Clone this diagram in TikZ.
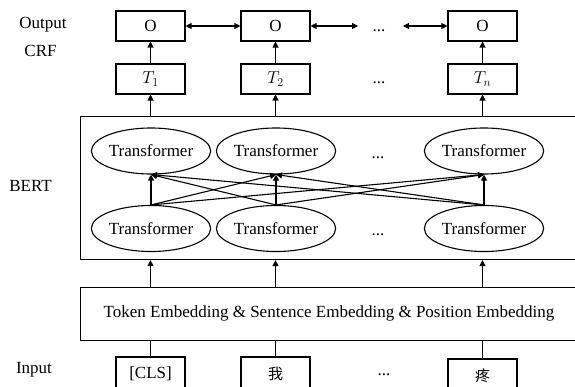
\documentclass[tikz,border=0pt]{standalone}
\usepackage{fontspec}
\setmainfont{Liberation Serif}
\newfontfamily\cjk{Noto Sans CJK SC}
\usetikzlibrary{arrows.meta,shapes.geometric}
\tikzset{
  x=1pt,y=-1pt,
  every node/.style={font=\fontsize{17}{20}\selectfont},
  line/.style={line width=1.1pt,black},
  arr/.style={line, -{Triangle[length=6pt,width=6pt]}},
  darr/.style={line, {Triangle[length=6pt,width=6pt]}-{Triangle[length=6pt,width=6pt]}},
  sbox/.style={draw,line width=1.1pt,minimum width=69pt,minimum height=30pt,inner sep=0pt},
  tf/.style={draw,ellipse,line width=1.1pt,minimum width=97pt,minimum height=46pt,inner sep=0pt},
  lab/.style={inner sep=0pt},
  dotsn/.style={inner sep=0pt,anchor=base},
}
\begin{document}
\begin{tikzpicture}
\useasboundingbox (0,0) rectangle (575,387);
\clip (0,0) rectangle (575,387);
% labels
\node[lab] (lout) at (43,25) {Output};
\node[lab] (lcrf) at (40.5,51) {CRF};
\node[lab] (lbert) at (30.5,186) {BERT};
\node[lab] (lin) at (34,370) {Input};
% O row
\node[sbox] (o1) at (150.5,26) {O};
\node[sbox] (o2) at (275.5,26) {O};
\node[sbox] (o3) at (482.5,26) {O};
\node[dotsn] (od) at (379,31.5) {...};
\coordinate (oa) at (358,26);
\coordinate (ob) at (403,26);
\draw[darr] (o1) -- (o2);
\draw[darr] (o2) -- (oa);
\draw[darr] (ob) -- (o3);
% T row
\node[sbox] (t1) at (150.5,79) {$T_1$};
\node[sbox] (t2) at (275.5,79) {$T_2$};
\node[sbox] (t3) at (482.5,79) {$T_n$};
\node[dotsn] (td) at (379,84) {...};
\draw[arr] (t1) -- (o1);
\draw[arr] (t2) -- (o2);
\draw[arr] (t3) -- (o3);
% BERT box
\node[draw,line width=1.1pt,minimum width=500pt,minimum height=143pt,inner sep=0pt,anchor=north west] (bert) at (80,116) {};
\draw[arr] (t1 |- bert.north) -- (t1);
\draw[arr] (t2 |- bert.north) -- (t2);
\draw[arr] (t3 |- bert.north) -- (t3);
% transformers
\node[tf] (a1) at (151,151) {Transformer};
\node[tf] (a2) at (276,151) {Transformer};
\node[tf] (a3) at (484,151) {Transformer};
\node[tf] (b1) at (151,228.5) {Transformer};
\node[tf] (b2) at (276,228.5) {Transformer};
\node[tf] (b3) at (484,228.5) {Transformer};
\node[dotsn] (ad) at (378,159) {...};
\node[dotsn] (bd) at (378,236) {...};
\foreach \i in {1,2,3}{
  \foreach \j in {1,2,3}{
    \draw[arr] (b\i.north) -- (a\j.south);
  }
}
% embedding
\node[draw,line width=1.1pt,minimum width=500pt,minimum height=53pt,inner sep=0pt,anchor=north west] (emb) at (80,287) {};
\node[inner sep=0pt] (embt) at (329,313) {Token Embedding \& Sentence Embedding \& Position Embedding};
\draw[arr] (t1 |- emb.north) -- (t1 |- bert.south);
\draw[arr] (t2 |- emb.north) -- (t2 |- bert.south);
\draw[arr] (t3 |- emb.north) -- (t3 |- bert.south);
% inputs
\node[sbox,minimum height=34pt] (i1) at (150.5,374) {[CLS]};
\node[sbox,minimum height=34pt,font=\cjk\fontsize{15}{18}\selectfont] (i2) at (275.5,374) {我};
\node[sbox,minimum height=34pt,font=\cjk\fontsize{15}{18}\selectfont] (i3) at (482.5,376) {疼};
\node[dotsn] (id) at (384,375) {...};
\draw[line] (i1.north) -- (i1 |- emb.south);
\draw[line] (i2.north) -- (i2 |- emb.south);
\draw[line] (i3.north) -- (i3 |- emb.south);
\end{tikzpicture}
\end{document}
